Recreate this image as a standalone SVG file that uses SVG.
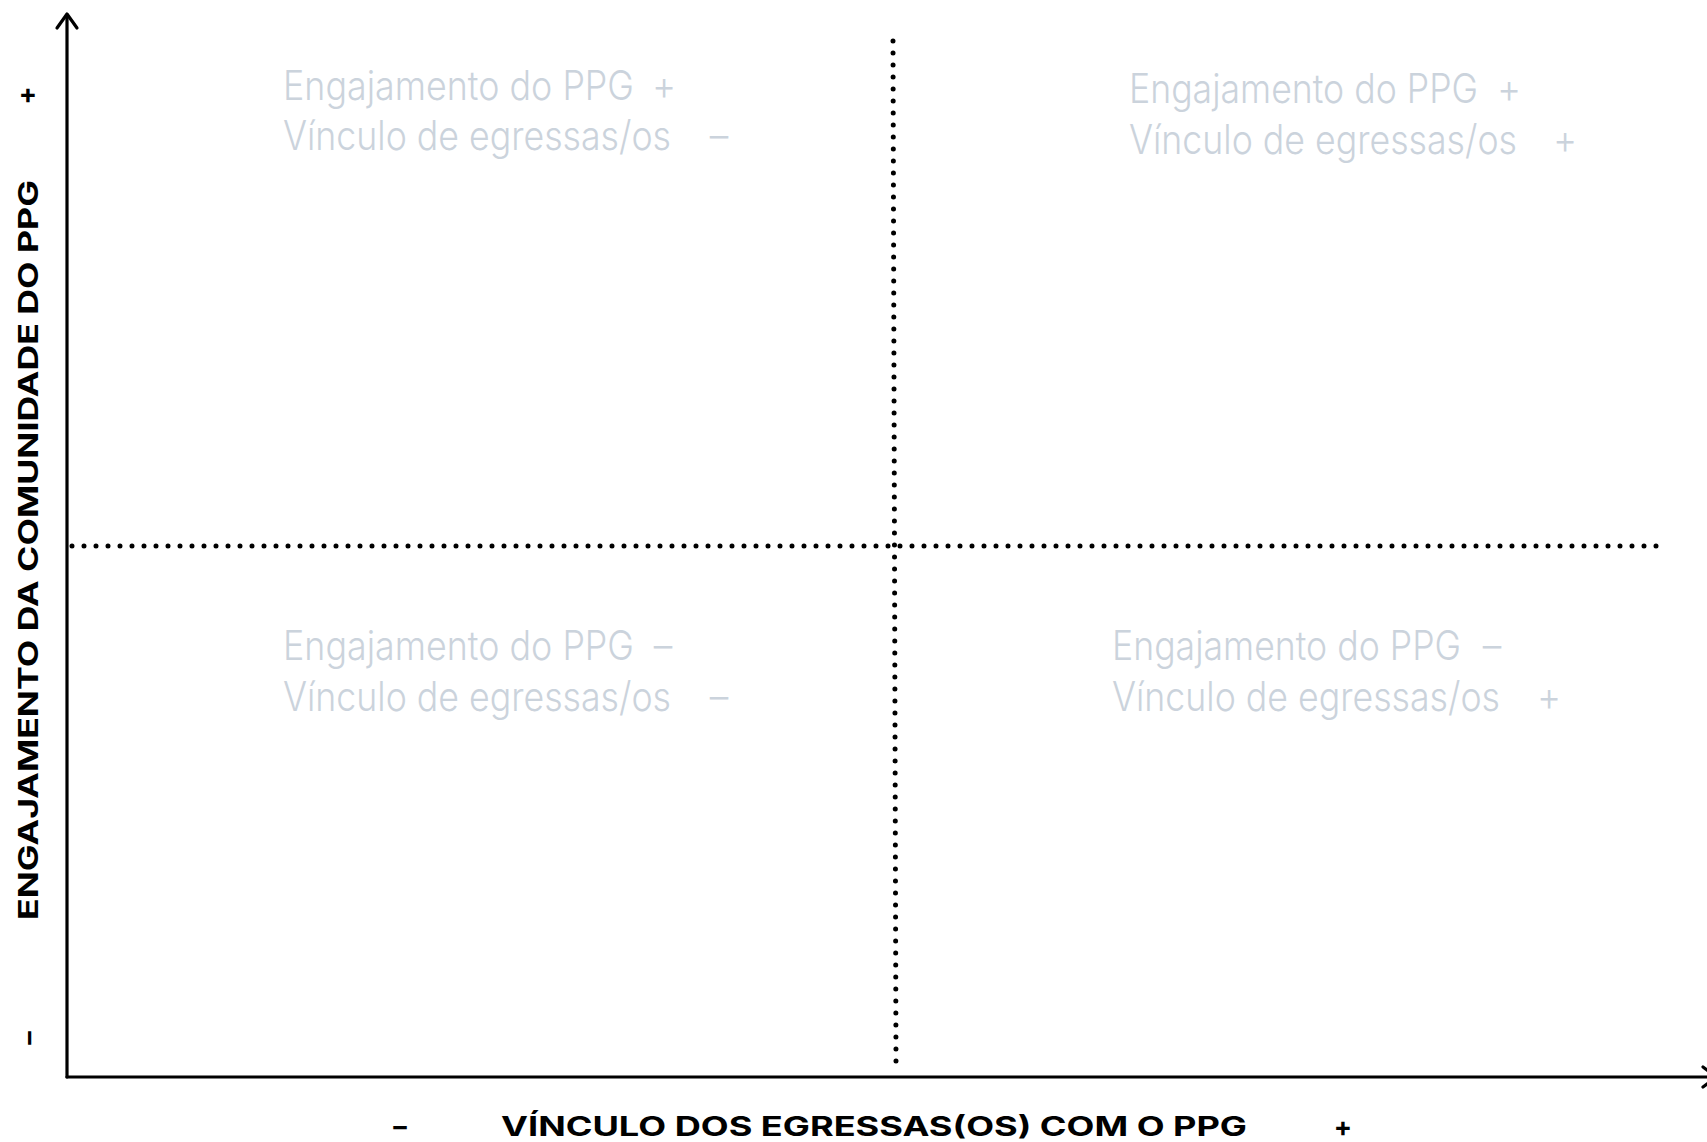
<svg xmlns="http://www.w3.org/2000/svg" width="1707" height="1142" viewBox="0 0 1707 1142">
<style>
.q{font-family:"Inter","Lato","Liberation Sans",sans-serif;font-weight:300;font-size:37px;fill:#cbd3dc}
.ax{font-family:"Inter","Lato","Liberation Sans",sans-serif;font-weight:700;font-size:27px;fill:#000}
.axis{stroke:#000;stroke-width:3.2;fill:none;stroke-linecap:round;stroke-linejoin:round}
.dot{stroke:#000;stroke-width:5;stroke-linecap:round;stroke-dasharray:0 12;fill:none}
</style>
<rect width="1707" height="1142" fill="#fff"/>
<g id="connectors">
<line class="dot" x1="72" y1="546" x2="1660" y2="546"/>
<line class="dot" x1="893" y1="41" x2="896" y2="1062"/>
<polyline class="axis" points="67,1077 67,15"/>
<polyline class="axis" points="57,28 67,14 77,28"/>
<polyline class="axis" points="67,1077 1716,1077"/>
<polyline class="axis" points="1703,1067 1716,1077 1703,1087"/>
</g>
<g id="axis-y-label">
<text class="ax" transform="translate(38,550) rotate(-90)" text-anchor="middle" textLength="740" lengthAdjust="spacingAndGlyphs">ENGAJAMENTO DA COMUNIDADE DO PPG</text>
<text class="ax" x="28" y="103" text-anchor="middle">+</text>
<text class="ax" transform="translate(38,1038) rotate(-90)" text-anchor="middle">–</text>
</g>
<g id="axis-x-label">
<text class="ax" x="501" y="1136" textLength="746" lengthAdjust="spacingAndGlyphs">VÍNCULO DOS EGRESSAS(OS) COM O PPG</text>
<text class="ax" x="400" y="1136" text-anchor="middle">–</text>
<text class="ax" x="1343" y="1136" text-anchor="middle">+</text>
</g>
<g id="q-top-left">
<text class="q" transform="translate(283,100) scale(1,1.1)" textLength="351" lengthAdjust="spacingAndGlyphs">Engajamento do PPG</text>
<text class="q" transform="translate(664,100) scale(1,1.1)" text-anchor="middle">+</text>
<text class="q" transform="translate(283,150) scale(1,1.1)" textLength="388" lengthAdjust="spacingAndGlyphs">Vínculo de egressas/os</text>
<text class="q" transform="translate(719,150) scale(1,1.1)" text-anchor="middle">–</text>
</g>
<g id="q-top-right">
<text class="q" transform="translate(1129,103) scale(1,1.1)" textLength="349" lengthAdjust="spacingAndGlyphs">Engajamento do PPG</text>
<text class="q" transform="translate(1509,103) scale(1,1.1)" text-anchor="middle">+</text>
<text class="q" transform="translate(1129,154) scale(1,1.1)" textLength="388" lengthAdjust="spacingAndGlyphs">Vínculo de egressas/os</text>
<text class="q" transform="translate(1565,154) scale(1,1.1)" text-anchor="middle">+</text>
</g>
<g id="q-bottom-left">
<text class="q" transform="translate(283,660) scale(1,1.1)" textLength="351" lengthAdjust="spacingAndGlyphs">Engajamento do PPG</text>
<text class="q" transform="translate(663,660) scale(1,1.1)" text-anchor="middle">–</text>
<text class="q" transform="translate(283,711) scale(1,1.1)" textLength="388" lengthAdjust="spacingAndGlyphs">Vínculo de egressas/os</text>
<text class="q" transform="translate(719,711) scale(1,1.1)" text-anchor="middle">–</text>
</g>
<g id="q-bottom-right">
<text class="q" transform="translate(1112,660) scale(1,1.1)" textLength="349" lengthAdjust="spacingAndGlyphs">Engajamento do PPG</text>
<text class="q" transform="translate(1492,660) scale(1,1.1)" text-anchor="middle">–</text>
<text class="q" transform="translate(1112,711) scale(1,1.1)" textLength="388" lengthAdjust="spacingAndGlyphs">Vínculo de egressas/os</text>
<text class="q" transform="translate(1549,711) scale(1,1.1)" text-anchor="middle">+</text>
</g>
</svg>
